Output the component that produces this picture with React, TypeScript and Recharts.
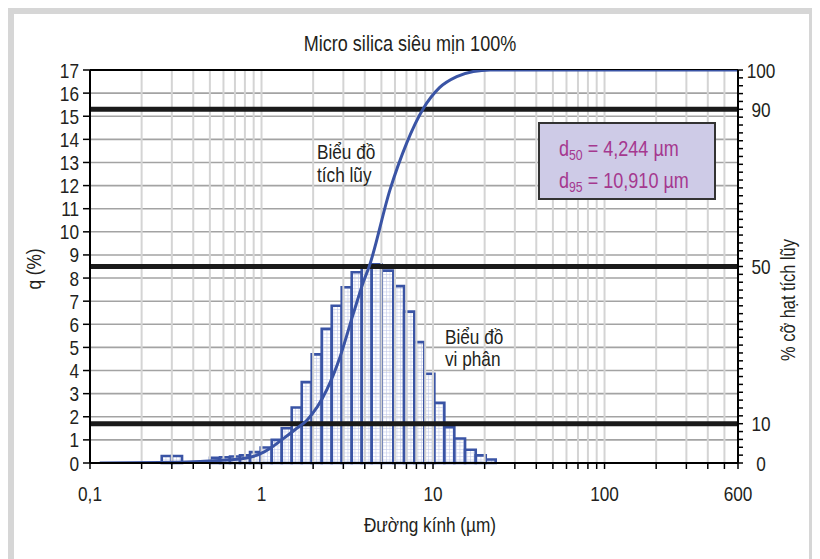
import React from 'react';
import {
  ComposedChart,
  XAxis,
  YAxis,
  CartesianGrid,
  Line,
  ReferenceArea,
  ReferenceLine,
} from 'recharts';

// ---- data ----
// histogram bins (diameter, µm) and differential q (%)
const binLo = [0.262, 0.3, 0.501, 0.573, 0.655, 0.749, 0.857, 0.989, 1.147, 1.312, 1.5, 1.716, 1.962, 2.244, 2.566, 2.935, 3.357, 3.839, 4.39, 5.02, 5.87, 6.78, 7.78, 8.9, 10.18, 11.64, 13.31, 15.37, 17.74, 20.29];
const binHi = [0.3, 0.344, 0.573, 0.655, 0.749, 0.857, 0.989, 1.147, 1.312, 1.5, 1.716, 1.962, 2.244, 2.566, 2.935, 3.357, 3.839, 4.39, 5.02, 5.87, 6.78, 7.78, 8.9, 10.18, 11.64, 13.31, 15.37, 17.74, 20.29, 23.2];
const qValues = [0.3, 0.3, 0.22, 0.25, 0.28, 0.33, 0.47, 0.67, 1.0, 1.5, 2.4, 3.5, 4.7, 5.8, 6.8, 7.6, 8.25, 8.55, 8.6, 8.32, 7.65, 6.55, 5.23, 3.86, 2.6, 1.55, 1.06, 0.57, 0.33, 0.15];

// cumulative curve (diameter µm, cumulative %)
const curveD = [0.114, 0.256, 0.44, 0.75, 0.98, 1.12, 1.34, 1.58, 1.84, 2.4, 2.87, 3.43, 3.92, 4.244, 5.61, 7.02, 8.78, 10.91, 13.75, 17.18, 21.5, 600];
const curveCum = [0, 0.1, 0.4, 1.0, 2.3, 3.7, 6.2, 8.6, 10.9, 18.6, 27, 38, 46, 50, 69.5, 81.4, 90.2, 95.5, 98.3, 99.6, 100, 100];

// axes
const xTicks = [0.1, 0.2, 0.3, 0.4, 0.5, 0.6, 0.7, 0.8, 0.9, 1, 2, 3, 4, 5, 6, 7, 8, 9, 10, 20, 30, 40, 50, 60, 70, 80, 90, 100, 200, 300, 400, 500, 600];
const xLabels: Record<string, string> = { '0.1': '0,1', '1': '1', '10': '10', '100': '100', '600': '600' };
const leftTicks = [0, 1, 2, 3, 4, 5, 6, 7, 8, 9, 10, 11, 12, 13, 14, 15, 16, 17];
const rightTicks = [0, 2, 4, 6, 8, 10, 12, 14, 16, 18, 20, 22, 24, 26, 28, 30, 32, 34, 36, 38, 40, 42, 44, 46, 48, 50, 52, 54, 56, 58, 60, 62, 64, 66, 68, 70, 72, 74, 76, 78, 80, 82, 84, 86, 88, 90, 92, 94, 96, 98, 100];
const rightLabels = [0, 10, 50, 90, 100];
const cumLines = [10, 50, 90];

const title = 'Micro silica siêu mịn 100%';
const xTitle = 'Đường kính (µm)';
const yTitle = 'q (%)';
const y2Title = '% cỡ hạt tích lũy';
const d50Text = '4,244 µm';
const d95Text = '10,910 µm';

const FONT = "'Liberation Sans', Arial, sans-serif";
const SX = 0.82;
const BLUE = '#3a54a5';
const TXT = '#231f20';

const curveData = curveD.map((d, i) => ({ d, c: curveCum[i] }));
const gridX = xTicks.filter((t) => t !== 0.1 && t !== 600);

const NText = ({ x, y, rot = 0, anchor = 'start', size = 21, fill = TXT, children }: any) => (
  <text
    transform={`translate(${x},${y}) rotate(${rot}) scale(${SX},1)`}
    textAnchor={anchor}
    fontFamily={FONT}
    fontSize={size}
    fill={fill}
  >
    {children}
  </text>
);

const XTick = (props: any) => {
  const { x, y, payload } = props;
  const lab = xLabels[String(payload.value)];
  if (!lab) return null;
  return <NText x={x} y={y + 30} anchor="middle">{lab}</NText>;
};

const LTick = (props: any) => {
  const { x, y, payload } = props;
  return <NText x={x - 2} y={y + 7.5} anchor="end">{payload.value}</NText>;
};

const RTick = (props: any) => {
  const { x, y, payload } = props;
  if (!rightLabels.includes(payload.value)) return null;
  return <NText x={x + 16} y={y + 7.5} anchor="middle">{payload.value}</NText>;
};

export default function App() {
  return (
    <div style={{ position: 'relative', width: 812, height: 551, background: '#fff' }}>
      <svg width="0" height="0" style={{ position: 'absolute' }}>
        <defs>
          <pattern id="barPattern" patternUnits="userSpaceOnUse" width="3.5" height="3.5">
            <rect width="3.5" height="3.5" fill="#ffffff" fillOpacity="0.55" />
            <path d="M0 0.3 H3.5 M0.3 0 V3.5" stroke="#bcc4e8" strokeWidth="0.6" />
          </pattern>
        </defs>
      </svg>
      <div
        style={{
          position: 'absolute',
          left: 0,
          top: 0,
          width: 812,
          height: 560,
          boxSizing: 'border-box',
          borderTop: '6px solid #d6d6d6',
          borderLeft: '6px solid #d6d6d6',
          borderRight: '11px solid #d6d6d6',
        }}
      />
      <div style={{ position: 'absolute', left: 0, top: 0 }}>
        <ComposedChart
          width={812}
          height={551}
          data={curveData}
          margin={{ top: 62, right: 0, bottom: 36, left: 0 }}
        >
          {gridX.map((t) => (
            <ReferenceLine key={'vx' + t} x={t} yAxisId="right" stroke="#d4d4d4" strokeWidth={2} />
          ))}
          <CartesianGrid yAxisId="left" vertical={false} stroke="#a3a3a3" strokeWidth={1.6} />
          <XAxis
            dataKey="d"
            type="number"
            scale="log"
            domain={[0.1, 600]}
            ticks={xTicks}
            interval={0}
            allowDataOverflow
            height={60}
            tickSize={6}
            tickLine={{ stroke: '#000', strokeWidth: 1.5 }}
            axisLine={{ stroke: '#000', strokeWidth: 2 }}
            tick={<XTick />}
          />
          <YAxis
            yAxisId="left"
            orientation="left"
            type="number"
            domain={[0, 17]}
            allowDataOverflow
            ticks={leftTicks}
            interval={0}
            width={82}
            tickSize={7}
            tickLine={{ stroke: '#000', strokeWidth: 1.5 }}
            axisLine={{ stroke: '#000', strokeWidth: 2 }}
            tick={<LTick />}
          />
          <YAxis
            yAxisId="right"
            orientation="right"
            type="number"
            domain={[0, 100]}
            allowDataOverflow
            ticks={rightTicks}
            interval={0}
            width={82}
            tickSize={5}
            tickLine={{ stroke: '#000', strokeWidth: 1.5 }}
            axisLine={{ stroke: '#000', strokeWidth: 2 }}
            tick={<RTick />}
          />
          {qValues.map((q, i) => (
            <ReferenceArea
              key={'b' + i}
              yAxisId="left"
              x1={binLo[i]}
              x2={binHi[i]}
              y1={0}
              y2={q}
              fill="url(#barPattern)"
              fillOpacity={1}
              stroke={BLUE}
              strokeWidth={2.6}
              strokeOpacity={1}
            />
          ))}
          {cumLines.map((v) => (
            <ReferenceLine key={'c' + v} y={v} yAxisId="right" stroke="#1a1a1a" strokeWidth={5} />
          ))}
          <ReferenceLine y={100} yAxisId="right" stroke="#000" strokeWidth={2} />
          <Line
            yAxisId="right"
            dataKey="c"
            type="monotone"
            stroke={BLUE}
            strokeWidth={3}
            dot={false}
            isAnimationActive={false}
          />
        </ComposedChart>
      </div>
      <svg
        width={812}
        height={551}
        style={{ position: 'absolute', left: 0, top: 0, pointerEvents: 'none' }}
      >
        <NText x={402} y={43} anchor="middle" size={22}>{title}</NText>
        <NText x={33} y={261} rot={-90} anchor="middle" size={21}>{yTitle}</NText>
        <NText x={787} y={292} rot={-90} anchor="middle" size={20}>{y2Title}</NText>
        <NText x={422} y={524} anchor="middle" size={21}>{xTitle}</NText>
        <NText x={309} y={151}>Biểu đồ</NText>
        <NText x={309} y={174}>tích lũy</NText>
        <NText x={437} y={336}>Biểu đồ</NText>
        <NText x={437} y={358}>vi phân</NText>
        <rect x={531} y={115} width={176} height={76} fill="#cecbe7" stroke="#333" strokeWidth={2} />
        <NText x={551} y={148} size={22} fill="#a5388f">
          d<tspan fontSize={15} dy={4}>50</tspan>
          <tspan dy={-4}>{' = ' + d50Text}</tspan>
        </NText>
        <NText x={551} y={180} size={22} fill="#a5388f">
          d<tspan fontSize={15} dy={4}>95</tspan>
          <tspan dy={-4}>{' = ' + d95Text}</tspan>
        </NText>
      </svg>
    </div>
  );
}
